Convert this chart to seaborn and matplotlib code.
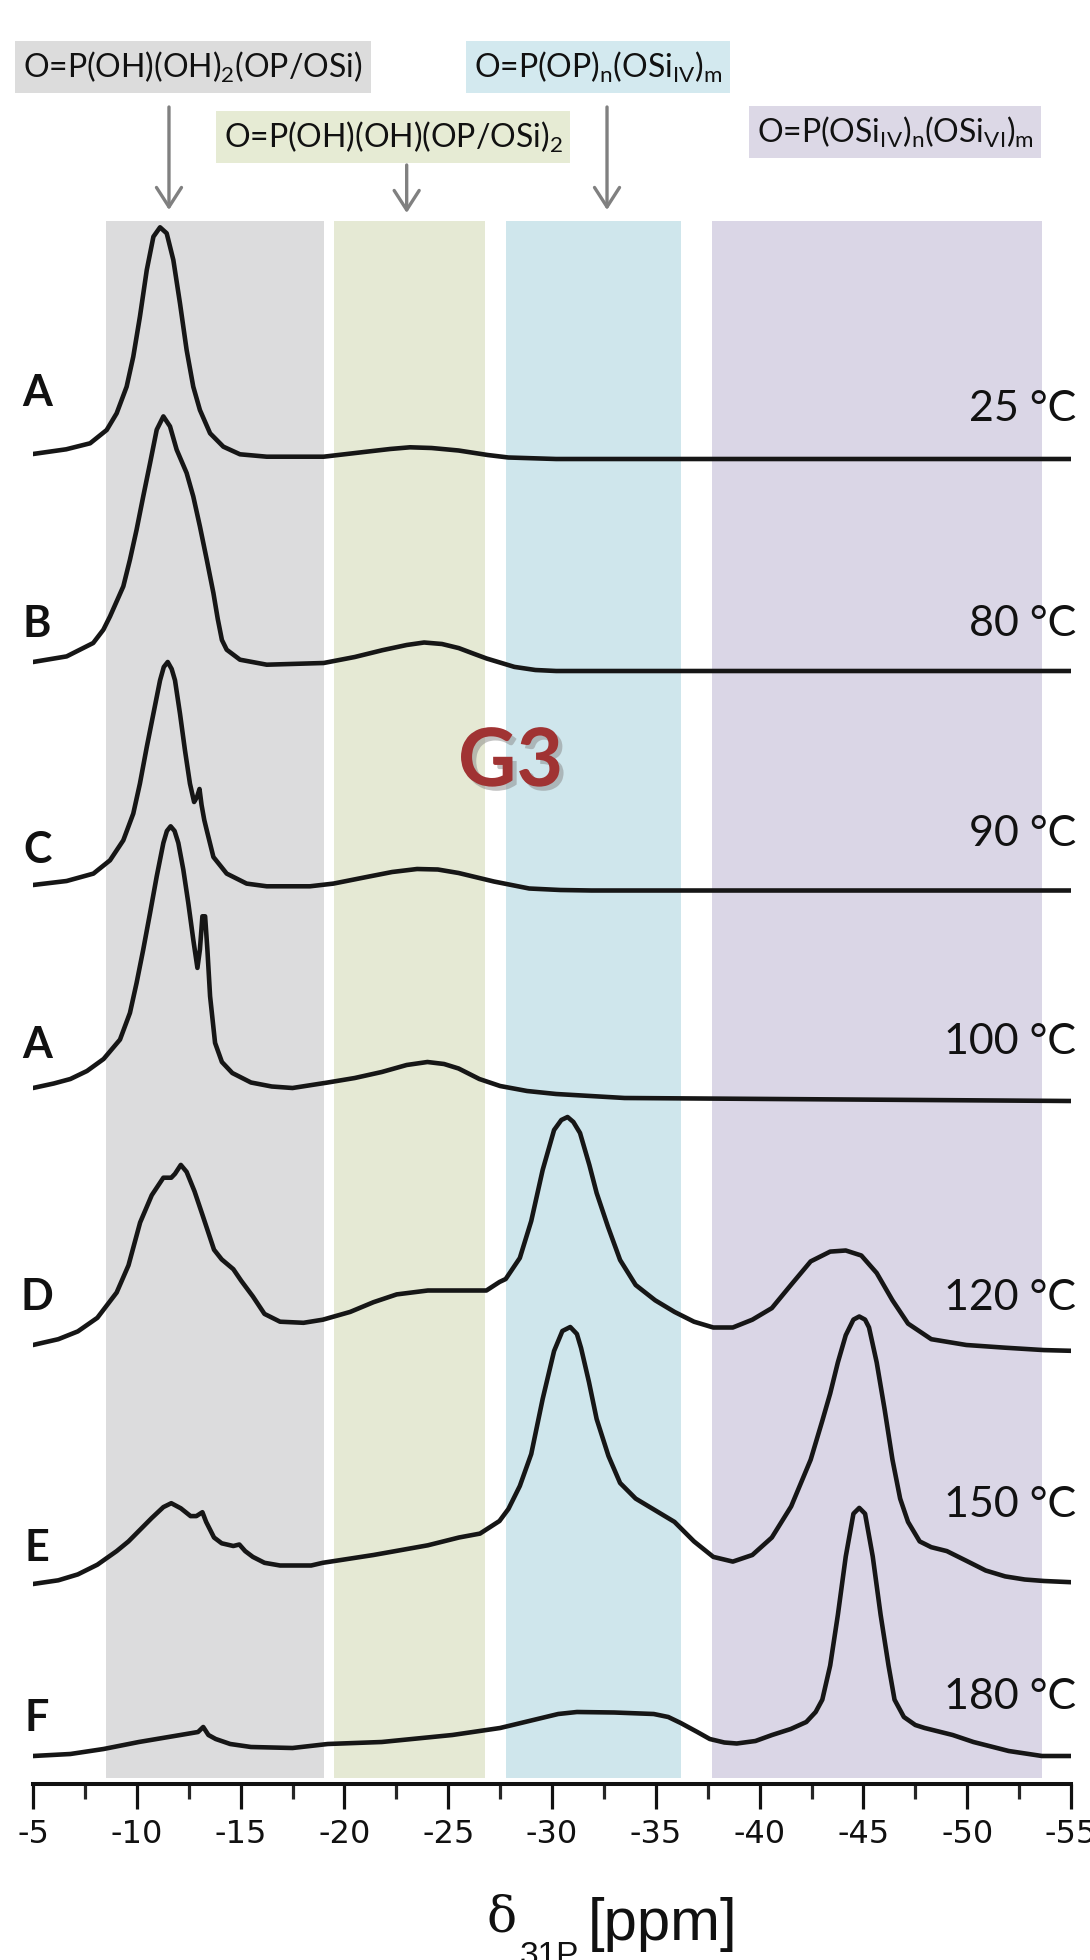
import matplotlib
matplotlib.use("Agg")
import matplotlib.pyplot as plt
import matplotlib.patheffects as pe
from matplotlib.ticker import MultipleLocator, FormatStrFormatter
import pandas as pd
import seaborn as sns

# --- 31P spectra: chemical shift (ppm) and intensity above each trace's baseline ---
ppm_a25 = [-5.0, -6.6, -7.75, -8.55, -9.03, -9.51, -9.83, -10.15, -10.48, -10.8, -11.12, -11.44,
           -11.76, -12.08, -12.4, -12.72, -13.04, -13.53, -14.17, -14.97, -16.26, -19.0, -21.07, -22.2,
           -23.16, -24.2, -25.5, -26.9, -27.9, -30.2, -55.0]
int_a25 = [0.0, 0.47, 1.07, 2.4, 4.07, 6.73, 9.73, 13.73, 18.4, 21.73, 22.67, 22.07,
           19.4, 15.07, 10.4, 6.73, 4.4, 2.07, 0.73, -0.03, -0.27, -0.27, 0.23, 0.5,
           0.67, 0.6, 0.35, -0.1, -0.35, -0.5, -0.5]

ppm_b80 = [-5.0, -6.62, -7.9, -8.39, -8.71, -9.35, -9.67, -9.99, -10.31, -10.64, -10.96, -11.28,
           -11.6, -11.92, -12.4, -12.72, -13.04, -13.37, -13.69, -13.9, -14.1, -14.33, -14.97, -16.26,
           -19.0, -20.5, -21.83, -23.0, -23.84, -24.7, -25.51, -26.2, -26.85, -28.19, -29.2, -30.2, -55.0]
int_b80 = [0.0, 0.56, 1.9, 3.23, 4.56, 7.56, 10.23, 13.23, 16.56, 19.9, 23.23, 24.56,
           23.56, 21.23, 18.9, 16.56, 13.56, 10.23, 6.9, 4.3, 2.2, 1.23, 0.23, -0.27,
           -0.1, 0.5, 1.18, 1.7, 1.95, 1.8, 1.39, 0.85, 0.35, -0.49, -0.8, -0.9, -0.9]

ppm_c90 = [-5.0, -6.62, -7.91, -8.71, -9.35, -9.83, -10.15, -10.48, -10.8, -11.12, -11.3, -11.49,
           -11.68, -11.84, -12.08, -12.32, -12.56, -12.76, -12.9, -13.02, -13.12, -13.25, -13.37, -13.69,
           -14.33, -15.29, -16.26, -18.34, -19.47, -21.07, -22.3, -23.5, -24.5, -25.5, -26.4, -27.2,
           -28.9, -30.4, -31.9, -55.0]
int_c90 = [0.0, 0.4, 1.14, 2.47, 4.47, 7.14, 10.14, 13.8, 17.14, 20.47, 21.8, 22.3,
           21.6, 20.47, 17.14, 13.47, 10.14, 8.3, 8.8, 9.6, 8.0, 6.5, 5.47, 2.8,
           1.14, 0.14, -0.13, -0.13, 0.14, 0.8, 1.3, 1.6, 1.55, 1.2, 0.75, 0.35,
           -0.35, -0.5, -0.55, -0.55]

ppm_a100 = [-5.0, -6.0, -6.8, -7.6, -8.4, -9.19, -9.67, -9.99, -10.31, -10.64, -10.96, -11.28,
            -11.45, -11.63, -11.82, -12.0, -12.24, -12.48, -12.72, -12.92, -13.04, -13.16, -13.29, -13.4,
            -13.53, -13.77, -14.1, -14.6, -15.5, -16.5, -17.5, -19.2, -20.5, -21.8, -23.0, -24.0,
            -24.8, -25.5, -26.5, -27.5, -28.8, -30.2, -33.5, -55.0]
int_a100 = [0.0, 0.45, 0.9, 1.7, 2.9, 4.84, 7.51, 10.51, 13.84, 17.51, 21.17, 24.51,
            25.7, 26.17, 25.7, 24.51, 21.84, 18.51, 14.84, 12.01, 13.84, 17.17, 17.17, 13.84,
            9.17, 4.51, 2.6, 1.5, 0.55, 0.15, 0.0, 0.55, 1.0, 1.6, 2.3, 2.6,
            2.4, 1.95, 0.9, 0.2, -0.3, -0.6, -1.0, -1.3]

ppm_d120 = [-5.0, -6.22, -7.16, -8.1, -9.03, -9.6, -10.16, -10.72, -11.28, -11.66, -11.84, -12.12,
            -12.4, -12.78, -13.16, -13.72, -14.09, -14.65, -15.03, -15.59, -16.15, -16.9, -18.03, -18.96,
            -20.28, -21.4, -22.52, -24.02, -25.52, -26.84, -27.47, -27.77, -28.45, -29.0, -29.55, -30.1,
            -30.45, -30.75, -31.03, -31.35, -31.8, -32.15, -32.7, -33.28, -34.03, -34.97, -35.9, -36.84,
            -37.77, -38.71, -39.65, -40.59, -41.52, -42.46, -43.4, -44.15, -44.9, -45.64, -46.4, -47.15,
            -48.27, -49.96, -51.83, -53.7, -55.0]
int_d120 = [0.0, 0.58, 1.36, 2.72, 5.25, 7.97, 12.25, 14.98, 16.73, 16.73, 17.12, 18.01,
            17.31, 15.37, 13.03, 9.53, 8.56, 7.58, 6.42, 4.86, 3.11, 2.33, 2.22, 2.53,
            3.31, 4.28, 5.06, 5.45, 5.45, 5.45, 6.3, 6.6, 8.7, 12.4, 17.5, 21.5,
            22.5, 22.8, 22.3, 21.2, 18.0, 15.2, 11.8, 8.5, 6.0, 4.47, 3.31, 2.33,
            1.75, 1.75, 2.53, 3.69, 6.03, 8.36, 9.34, 9.45, 8.95, 7.2, 4.47, 2.14,
            0.58, 0.0, -0.27, -0.51, -0.58]

ppm_e150 = [-5.0, -6.22, -7.16, -8.1, -9.03, -9.6, -10.16, -10.72, -11.28, -11.66, -12.12, -12.59,
            -12.87, -13.16, -13.34, -13.72, -14.09, -14.65, -14.94, -15.22, -15.59, -16.15, -16.9, -18.4,
            -18.96, -21.4, -24.02, -25.52, -26.53, -27.47, -27.9, -28.45, -29.0, -29.55, -30.1, -30.5,
            -30.88, -31.2, -31.4, -31.78, -32.15, -32.72, -33.28, -34.03, -34.97, -35.9, -36.84, -37.77,
            -38.71, -39.65, -40.59, -41.52, -42.46, -43.02, -43.4, -43.77, -44.15, -44.52, -44.8, -45.08,
            -45.27, -45.64, -46.02, -46.4, -46.77, -47.15, -47.71, -48.27, -49.02, -49.96, -50.89, -51.83,
            -52.77, -53.7, -55.0]
int_e150 = [0.0, 0.37, 0.96, 1.93, 3.29, 4.26, 5.43, 6.6, 7.69, 8.08, 7.57, 6.79,
            6.79, 7.18, 6.21, 4.65, 4.07, 3.8, 3.95, 3.29, 2.71, 2.12, 1.85, 1.85,
            2.12, 2.9, 3.87, 4.65, 5.04, 6.3, 7.5, 9.8, 13.0, 18.5, 23.3, 25.3,
            25.7, 25.0, 23.6, 20.2, 16.5, 12.8, 10.1, 8.54, 7.37, 6.21, 4.26, 2.71,
            2.24, 2.9, 4.65, 7.76, 12.43, 16.32, 19.05, 22.16, 24.88, 26.44, 26.75, 26.44,
            25.66, 22.16, 17.49, 12.43, 8.54, 6.21, 4.26, 3.68, 3.29, 2.32, 1.35, 0.76,
            0.45, 0.3, 0.18]

ppm_f180 = [-5.0, -6.8, -8.4, -10.1, -12.1, -12.95, -13.2, -13.45, -13.8, -14.5, -15.5, -17.5,
            -19.2, -21.8, -25.2, -27.5, -28.5, -29.5, -30.3, -31.2, -33.0, -34.9, -35.6, -36.2,
            -37.0, -37.6, -38.3, -38.9, -39.8, -40.6, -41.5, -42.25, -42.7, -43.02, -43.4, -43.77,
            -44.15, -44.52, -44.8, -45.08, -45.45, -45.83, -46.21, -46.5, -46.95, -47.5, -47.95, -49.3,
            -50.3, -52.0, -53.6, -55.0]
int_f180 = [0.0, 0.2, 0.7, 1.4, 2.1, 2.4, 2.9, 2.1, 1.7, 1.2, 0.9, 0.8,
            1.2, 1.4, 2.1, 2.8, 3.3, 3.8, 4.2, 4.4, 4.35, 4.2, 3.9, 3.3,
            2.4, 1.7, 1.35, 1.25, 1.5, 2.1, 2.7, 3.4, 4.4, 5.63, 9.05, 14.11,
            19.95, 24.23, 24.81, 24.23, 19.95, 14.11, 9.05, 5.63, 3.9, 3.1, 2.8, 2.1,
            1.4, 0.5, 0.0, 0.0]

letters = ["A", "B", "C", "A", "D", "E", "F"]
temps = ["25 °C", "80 °C", "90 °C", "100 °C", "120 °C", "150 °C", "180 °C"]
baselines = [133.0, 112.2, 89.9, 69.6, 43.9, 20.0, 2.8]
all_ppm = [ppm_a25, ppm_b80, ppm_c90, ppm_a100, ppm_d120, ppm_e150, ppm_f180]
all_int = [int_a25, int_b80, int_c90, int_a100, int_d120, int_e150, int_f180]

# shaded chemical-shift regions (ppm)
band_lo = [-8.5, -19.5, -27.8, -37.7]
band_hi = [-19.0, -26.75, -36.2, -53.6]
band_colors = ["#dcdcdd", "#e5e9d4", "#cfe6ec", "#dad6e6"]

# region labels and where their arrows point (ppm)
region_labels = [r"O=P(OH)(OH)$_2$(OP/OSi)",
                 r"O=P(OP)$_\mathrm{n}$(OSi$_\mathrm{IV}$)$_\mathrm{m}$",
                 r"O=P(OH)(OH)(OP/OSi)$_2$",
                 r"O=P(OSi$_\mathrm{IV}$)$_\mathrm{n}$(OSi$_\mathrm{VI}$)$_\mathrm{m}$"]
label_colors = ["#dcdcdc", "#d3e9ef", "#e6ebd4", "#dcd8e6"]
arrow_ppm = [-11.55, -32.65, -23.0]

# layout (figure pixels / small nudges)
W, H = 1090, 1960
label_xy = [(193, 67), (598, 67), (393, 137), (895, 132)]
letter_lift = [6.1, 3.8, 3.5, 4.3, 4.8, 3.6, 3.8]
temp_lift = [5.0, 4.7, 5.7, 5.9, 5.3, 7.7, 5.9]

sns.set_style("white")
plt.rcParams["axes.unicode_minus"] = False
plt.rcParams["mathtext.fontset"] = "custom"
plt.rcParams["mathtext.rm"] = "Lato"
plt.rcParams["mathtext.it"] = "Lato"
plt.rcParams["mathtext.bf"] = "Lato:bold"

fig = plt.figure(figsize=(W / 100, H / 100), dpi=100)
ax = fig.add_axes([33 / W, 176 / H, 1038 / W, 1563 / H])
ymax = 156.3

for lo, hi, c in zip(band_lo, band_hi, band_colors):
    ax.axvspan(lo, hi, ymin=0.004, ymax=1.0, color=c, lw=0, zorder=0)

rows = []
for i, (p, v) in enumerate(zip(all_ppm, all_int)):
    for pp, vv in zip(p, v):
        rows.append({"trace": i, "ppm": pp, "y": baselines[i] + vv})
df = pd.DataFrame(rows)

sns.lineplot(data=df, x="ppm", y="y", units="trace", estimator=None, sort=False,
             color="#161616", ax=ax, zorder=3)
# thick traces like the original print
for ln in ax.get_lines():
    ln.set_linewidth(3.3)
    ln.set_solid_joinstyle("round")
    ln.set_solid_capstyle("round")

for i in range(len(letters)):
    ax.text(-5.2, baselines[i] + letter_lift[i], letters[i], ha="center", va="center",
            fontsize=31, fontweight="bold", family="Lato", color="#111111")
    end_y = baselines[i] + all_int[i][-1]
    ax.text(-55.25, end_y + temp_lift[i], temps[i], ha="right", va="center",
            fontsize=31, family="Lato", color="#111111")

ax.text(-28.0, 102.1, "G3", ha="center", va="center", fontsize=58, fontweight="bold",
        family="Lato", color="#a03333",
        path_effects=[pe.SimplePatchShadow(offset=(3, -3), shadow_rgbFace="#888888", alpha=0.5),
                      pe.Normal()])

ax.set_xlim(-5, -55)
ax.set_ylim(0, ymax)
ax.xaxis.set_major_locator(MultipleLocator(5))
ax.xaxis.set_minor_locator(MultipleLocator(2.5))
ax.xaxis.set_major_formatter(FormatStrFormatter("%d"))
ax.set_yticks([])
for s in ["left", "right", "top"]:
    ax.spines[s].set_visible(False)
ax.spines["bottom"].set_linewidth(2.9)
ax.spines["bottom"].set_color("#111111")
ax.tick_params(axis="x", which="major", direction="out", length=18, width=2.3, pad=7,
               labelsize=23, colors="#111111", bottom=True)
ax.tick_params(axis="x", which="minor", direction="out", length=10.5, width=2.3, bottom=True)
for t in ax.get_xticklabels():
    t.set_family("DejaVu Sans")
ax.set_xlabel("")
ax.set_ylabel("")

# axis title: delta with subscript 31P (runs off the bottom edge like the original)
fig.text(502 / W, 1 - 1918 / H, "δ", ha="center", va="center", fontsize=36,
         family="DejaVu Serif", color="#111111")
fig.text(549 / W, 1 - 1941 / H, "31P", ha="center", va="top", fontsize=24,
         family="Liberation Sans", color="#111111")
fig.text(663 / W, 1 - 1924 / H, "[ppm]", ha="center", va="center", fontsize=43,
         family="Liberation Sans", color="#111111")

# region labels at top
for (lx, ly), txt, bc in zip(label_xy, region_labels, label_colors):
    fig.text(lx / W, 1 - ly / H, txt, ha="center", va="center", fontsize=23, family="Lato",
             color="#111111", bbox=dict(boxstyle="square,pad=0.25", fc=bc, ec="none"))

tails = [167.7, 167.7, 161.9]
tips = [157.4, 157.4, 157.1]
for xp, y0, y1 in zip(arrow_ppm, tails, tips):
    ax.annotate("", xy=(xp, y1), xytext=(xp, y0), annotation_clip=False,
                arrowprops=dict(arrowstyle="->,head_length=0.7,head_width=0.45",
                                mutation_scale=20, color="#808080", lw=2.4,
                                shrinkA=0, shrinkB=0))

fig.savefig("out.png", dpi=100)
